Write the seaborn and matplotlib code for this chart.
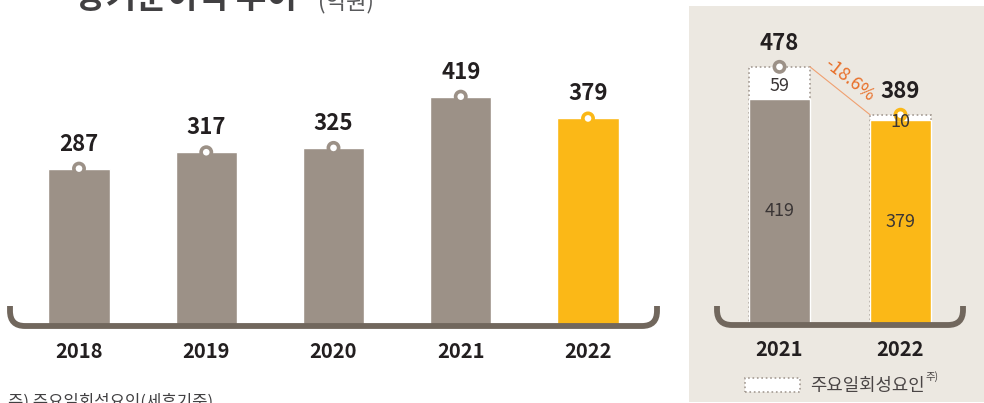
import numpy as np
import pandas as pd
import matplotlib
matplotlib.use("Agg")
import matplotlib.pyplot as plt
from matplotlib.path import Path
from matplotlib.patches import PathPatch, Patch
import seaborn as sns

# data
years = ["2018", "2019", "2020", "2021", "2022"]
profit = [287, 317, 325, 419, 379]

cmp_years = ["2021", "2022"]
cmp_base = [419, 379]
cmp_onetime = [59, 10]
cmp_change = "-18.6%"

W, H = 984, 403
GRAY = "#9c9187"
YELLOW = "#fbb817"
BRACKET = "#71675d"
DARK = "#231f20"
BG = "#ece8e1"
ORANGE = "#e8702a"

sns.set_theme(style="white")
plt.rcParams["font.family"] = ["Noto Sans CJK KR", "DejaVu Sans"]

fig = plt.figure(figsize=(W / 100, H / 100), dpi=100)


def px_axes(x0, y0, x1, y1):
  # pixel box (top-left origin) -> axes
  return fig.add_axes([x0 / W, 1 - y1 / H, (x1 - x0) / W, (y1 - y0) / H])


def bracket(x0, x1, ytop, ybase, r):
  pts = [(x0, ytop), (x0, ybase - r), (x0, ybase), (x0 + r, ybase),
         (x1 - r, ybase), (x1, ybase), (x1, ybase - r), (x1, ytop)]
  codes = [Path.MOVETO, Path.LINETO, Path.CURVE3, Path.CURVE3,
           Path.LINETO, Path.CURVE3, Path.CURVE3, Path.LINETO]
  pts = [(x / W, 1 - y / H) for x, y in pts]
  fig.add_artist(PathPatch(Path(pts, codes), transform=fig.transFigure,
                           fill=False, edgecolor=BRACKET, linewidth=4.2,
                           capstyle="butt", zorder=5))


# ---- left panel
df = pd.DataFrame({"year": years, "profit": profit})
pal = {y: (YELLOW if y == "2022" else GRAY) for y in years}
ax = px_axes(0, 0, 680, H)
sns.barplot(data=df, x="year", y="profit", hue="year", palette=pal,
            width=0.48, saturation=1, legend=False, ax=ax)
ax.set_xlim(-79 / 127.25, (680 - 79) / 127.25)
ax.set_ylim(-78 / 0.545, (H - 78) / 0.545)
ax.scatter(np.arange(len(years)), profit, s=55, facecolor="white",
           edgecolor=[pal[y] for y in years], linewidth=2.6, zorder=6)
for i, v in enumerate(profit):
  ax.annotate(str(v), (i, v), xytext=(0, 13), textcoords="offset points",
              ha="center", va="baseline", fontsize=16, fontweight="bold",
              color=DARK)
  ax.text(i, -27 / 0.545, years[i], ha="center", va="center", fontsize=14.5,
          fontweight="bold", color=DARK)
ax.axis("off")
bracket(10, 657, 306, 326, 15)

# ---- right panel
rx = px_axes(689, 6, W, 402)
rx.set_facecolor(BG)
cdf = pd.DataFrame({"year": cmp_years, "base": cmp_base,
                    "total": [b + o for b, o in zip(cmp_base, cmp_onetime)]})
cpal = {"2021": GRAY, "2022": YELLOW}
sns.barplot(data=cdf, x="year", y="total", color="white", width=0.504,
            saturation=1, edgecolor="#a39a92", linewidth=1.2, linestyle=":",
            ax=rx)
sns.barplot(data=cdf, x="year", y="base", hue="year", palette=cpal,
            width=0.504, saturation=1, legend=False, ax=rx)
rx.set_xlim(-(779.5 - 689) / 121, (W - 779.5) / 121)
sc = 0.538
rx.set_ylim(-(402 - 324) / sc, (324 - 6) / sc)
tot = cdf["total"].tolist()
rx.scatter([0, 1], tot, s=55, facecolor="white",
           edgecolor=[cpal[y] for y in cmp_years], linewidth=2.6, zorder=6)
for i in range(2):
  rx.annotate(str(tot[i]), (i, tot[i]), xytext=(0, 12),
              textcoords="offset points", ha="center", va="baseline",
              fontsize=16, fontweight="bold", color=DARK)
  rx.text(i, cmp_base[i] / 2, str(cmp_base[i]), ha="center", va="center",
          fontsize=13, color="#3a3535")
  rx.text(i, -26 / sc, cmp_years[i], ha="center", va="center", fontsize=14.5,
          fontweight="bold", color=DARK)
rx.text(0, cmp_base[0] + cmp_onetime[0] / 2 - 6, str(cmp_onetime[0]),
        ha="center", va="center", fontsize=13, color="#3a3535")
rx.text(1, cmp_base[1] - 4, str(cmp_onetime[1]), ha="center", va="center",
        fontsize=13, color="#3a3535", zorder=7)
# change connector
rx.plot([0.252, 1 - 0.252], tot, color="#f0a070", linewidth=0.8, zorder=4)
rx.text(0.58, (tot[0] + tot[1]) / 2 + 20, cmp_change, rotation=-38,
        ha="center", va="center", fontsize=13, color=ORANGE)
rx.set_xticks([])
rx.set_yticks([])
for s in rx.spines.values():
  s.set_visible(False)
rx.set_xlabel("")
rx.set_ylabel("")
handle = Patch(facecolor="white", edgecolor="#a39a92", linestyle=":",
               linewidth=1.2)
fig.legend([handle], ["주요일회성요인"], loc="center left",
           bbox_to_anchor=(729 / W, 1 - 386 / H), frameon=False,
           handlelength=3.1, handleheight=0.85, handletextpad=0.55,
           fontsize=12.8, labelcolor="#4a4545")
fig.text(925 / W, 1 - 377 / H, "주)", fontsize=7.5, color="#4a4545",
         ha="left", va="center")
bracket(717, 963, 306, 325, 15)

# clipped title / footnote
fig.text(75 / W, 1 - 8 / H, "당기순이익 추이", fontsize=24, fontweight="bold",
         color="#414042", va="baseline")
fig.text(318 / W, 1 - 8 / H, "(억원)", fontsize=16, color="#58595b",
         va="baseline")
fig.text(8 / W, 1 - 394 / H, "주) 주요일회성요인(세후기준)", fontsize=12,
         color="#414042", va="top")

fig.savefig("out.png", dpi=100)
plt.close(fig)
